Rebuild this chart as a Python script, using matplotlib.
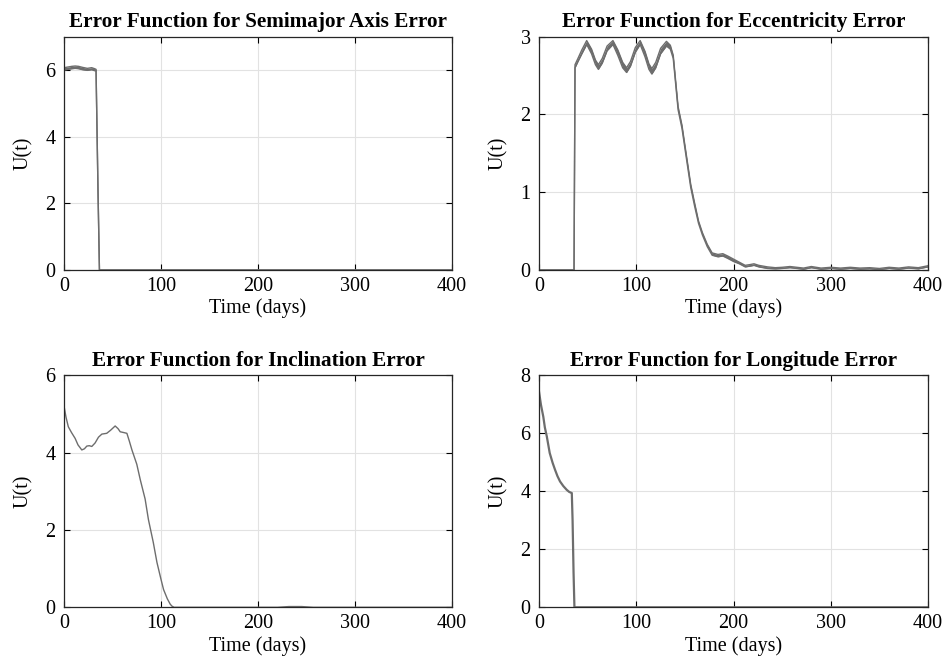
import numpy as np
import matplotlib
matplotlib.use('Agg')
import matplotlib.pyplot as plt

plt.rcParams['font.family'] = ['Liberation Serif', 'DejaVu Serif']

# semimajor axis error (band: lower/upper envelope)
sma_t = [0, 4, 8, 11.5, 15, 19, 24, 28.5, 31.5, 33, 34, 35, 36.5, 100, 200, 300, 400]
sma_lo = [6.00, 6.02, 6.04, 6.05, 6.04, 6.01, 5.99, 6.01, 5.98, 5.98, 4.2, 2.4, 0, 0, 0, 0, 0]
sma_hi = [6.07, 6.09, 6.11, 6.12, 6.11, 6.08, 6.05, 6.07, 6.04, 6.02, 4.2, 2.4, 0, 0, 0, 0, 0]

# eccentricity error
ecc_t = [0, 36, 37, 40, 44, 49, 54, 58, 61, 65, 70, 76, 81, 86, 90, 94, 99, 104,
         109, 113, 116, 120, 125, 131, 135, 138, 143, 147, 151, 156, 160, 164, 168,
         173, 178, 184, 189, 194, 200, 206, 212, 217, 221, 226, 235, 243, 250, 258,
         265, 272, 280, 290, 300, 310, 320, 330, 340, 350, 360, 370, 380, 390, 400]
ecc_lo = [0, 0, 2.60, 2.68, 2.78, 2.90, 2.78, 2.64, 2.58, 2.66, 2.82, 2.90, 2.76, 2.60,
          2.54, 2.62, 2.80, 2.90, 2.74, 2.58, 2.52, 2.60, 2.78, 2.88, 2.84, 2.72, 2.06,
          1.82, 1.48, 1.06, 0.82, 0.60, 0.45, 0.30, 0.19, 0.17, 0.18, 0.15, 0.11, 0.08,
          0.04, 0.05, 0.06, 0.04, 0.02, 0.015, 0.02, 0.03, 0.02, 0.01, 0.03, 0.01, 0.02,
          0.01, 0.02, 0.01, 0.015, 0.005, 0.02, 0.01, 0.025, 0.015, 0.04]
ecc_hi = [0, 0, 2.64, 2.72, 2.83, 2.95, 2.84, 2.70, 2.64, 2.72, 2.88, 2.95, 2.83, 2.67,
          2.60, 2.68, 2.86, 2.95, 2.81, 2.65, 2.59, 2.67, 2.85, 2.94, 2.89, 2.76, 2.10,
          1.86, 1.52, 1.10, 0.86, 0.63, 0.48, 0.33, 0.22, 0.20, 0.21, 0.18, 0.14, 0.10,
          0.06, 0.07, 0.08, 0.06, 0.04, 0.03, 0.035, 0.045, 0.035, 0.025, 0.045, 0.025,
          0.035, 0.025, 0.035, 0.025, 0.03, 0.02, 0.035, 0.025, 0.04, 0.03, 0.055]

# inclination error
inc_t = [0, 2, 4.4, 7.7, 11.4, 14.4, 18.3, 21, 23.5, 26, 28.6, 32, 35.5, 39, 44, 48,
         52.7, 55.7, 57.9, 61.5, 64.8, 67.3, 70, 75, 78.6, 83.6, 87, 92, 95.8, 100,
         102.6, 106.5, 109.5, 111.3, 113.5, 150, 220, 232, 245, 257, 300, 400]
inc_u = [5.20, 4.92, 4.67, 4.52, 4.37, 4.20, 4.07, 4.10, 4.17, 4.18, 4.16, 4.25, 4.40,
         4.48, 4.50, 4.58, 4.69, 4.62, 4.54, 4.52, 4.50, 4.30, 4.07, 3.70, 3.30, 2.80,
         2.27, 1.68, 1.16, 0.72, 0.46, 0.22, 0.08, 0.03, 0.0, 0.0, 0.0, 0.02, 0.02,
         0.0, 0.0, 0.0]

# longitude error
lon_t = [0, 2, 4.4, 6, 8, 11, 14, 16.5, 19, 21.6, 25, 28.5, 31, 33.7, 34.5, 35.5, 36.4,
         100, 200, 300, 400]
lon_u = [7.43, 6.98, 6.57, 6.20, 5.89, 5.32, 4.98, 4.74, 4.52, 4.34, 4.18, 4.05, 3.98,
         3.94, 3.0, 1.2, 0, 0, 0, 0, 0]

gray = '#6d6d6d'

fig = plt.figure(figsize=(9.46, 6.61), dpi=100)
ax1 = fig.add_axes([0.0677, 0.5915, 0.4101, 0.353])
ax2 = fig.add_axes([0.5698, 0.5915, 0.4112, 0.353])
ax3 = fig.add_axes([0.0677, 0.0812, 0.4101, 0.351])
ax4 = fig.add_axes([0.5698, 0.0812, 0.4112, 0.351])

ax1.fill_between(sma_t, sma_lo, sma_hi, color=gray, lw=0)
ax1.plot(sma_t, sma_lo, color=gray, lw=1.0)
ax1.plot(sma_t, sma_hi, color=gray, lw=1.0)

ax2.fill_between(ecc_t, ecc_lo, ecc_hi, color=gray, lw=0)
ax2.plot(ecc_t, ecc_lo, color=gray, lw=1.0)
ax2.plot(ecc_t, ecc_hi, color=gray, lw=1.0)

ax3.plot(inc_t, inc_u, color=gray, lw=1.0)
ax4.plot(lon_t, lon_u, color=gray, lw=1.6)

titles = ['Error Function for Semimajor Axis Error',
          'Error Function for Eccentricity Error',
          'Error Function for Inclination Error',
          'Error Function for Longitude Error']
ylims = [7, 3, 6, 8]
yticks = [[0, 2, 4, 6], [0, 1, 2, 3], [0, 2, 4, 6], [0, 2, 4, 6, 8]]

for ax, title, ym, yt in zip([ax1, ax2, ax3, ax4], titles, ylims, yticks):
    ax.set_xlim(0, 400)
    ax.set_ylim(0, ym)
    ax.set_xticks([0, 100, 200, 300, 400])
    ax.set_yticks(yt)
    ax.grid(True, color='#e2e2e2', lw=0.8)
    ax.set_axisbelow(True)
    ax.tick_params(direction='in', top=True, right=True, labelsize=14.5,
                   length=4, width=0.8)
    ax.tick_params(axis='x', pad=5)
    ax.tick_params(axis='y', pad=6)
    for s in ax.spines.values():
        s.set_linewidth(0.9)
        s.set_color('#262626')
    ax.set_title(title, fontsize=15.3, fontweight='bold', pad=7)
    ax.set_xlabel('Time (days)', fontsize=14.5, labelpad=2)
    ax.set_ylabel('U(t)', fontsize=14.5, labelpad=9)

fig.savefig('out.png', dpi=100)
